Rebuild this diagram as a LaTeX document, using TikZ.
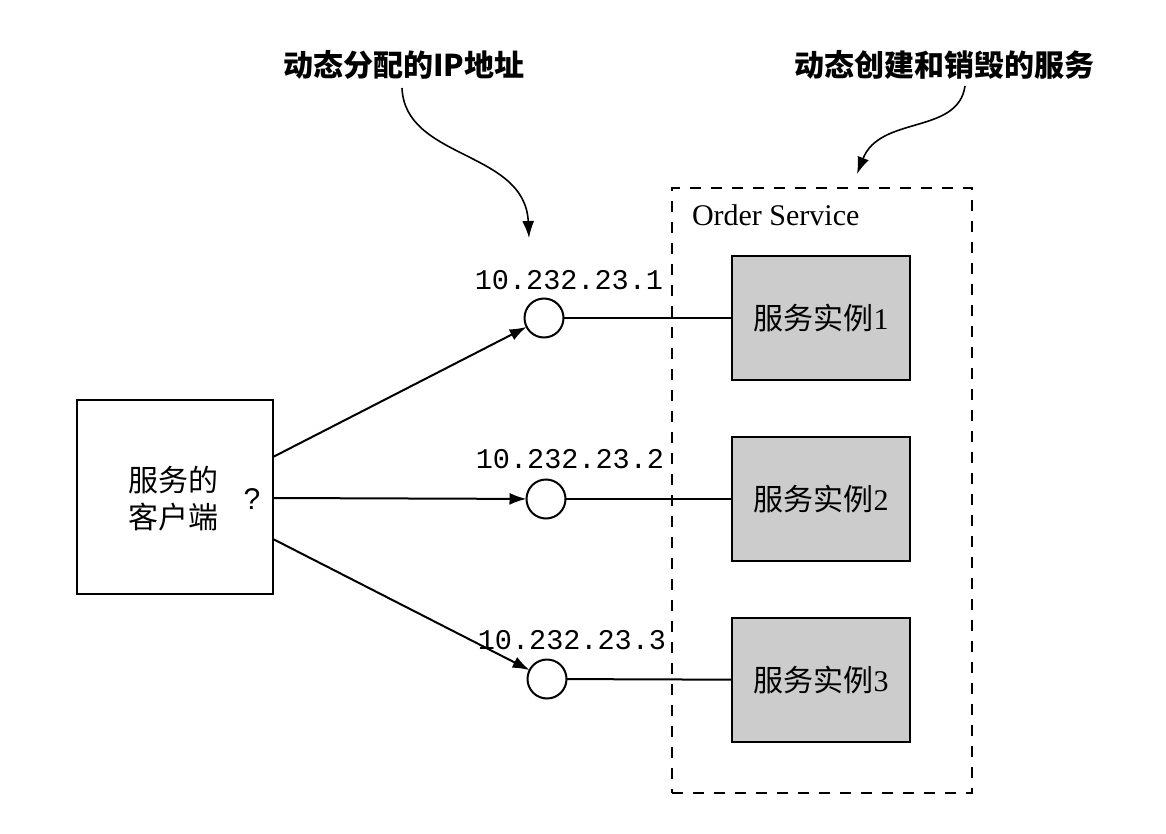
\documentclass[tikz,border=0pt]{standalone}
\usepackage{fontspec}
\setmainfont{Liberation Serif}
\newfontfamily\cjk{Noto Sans CJK SC}
\newfontfamily\monofam{Liberation Mono}
\newfontfamily\sansfam{Liberation Sans}
\usetikzlibrary{arrows.meta}
\begin{document}
\begin{tikzpicture}[x=1pt,y=-1pt,
  every node/.style={inner sep=0pt,outer sep=0pt},
  box/.style={draw,line width=2pt},
  inst/.style={box,fill=black!20,minimum width=178pt,minimum height=124pt,font=\cjk\fontsize{30}{36}\selectfont},
  ipc/.style={draw,line width=2pt,circle,minimum size=39pt,fill=white},
  iplabel/.style={font=\monofam\fontsize{28.5}{32}\selectfont,anchor=east},
  conn/.style={line width=2pt},
  arr/.style={conn,-{Latex[length=17pt,width=12pt]}},
  title/.style={font=\cjk\bfseries\fontsize{30}{36}\selectfont},
  dashbox/.style={draw,line width=2pt,dash pattern=on 11pt off 10pt}
]
\useasboundingbox (0,0) rectangle (1166,834);
% dashed service box
\node[dashbox,minimum width=300pt,minimum height=605pt,anchor=north west] (svc) at (672,188) {};
\node[anchor=west,font=\fontsize{30}{36}\selectfont] (svclabel) at (692,215) {Order Service};
% client
\node[box,minimum width=196pt,minimum height=194pt] (client) at (175,497) {};
\node[font=\cjk\fontsize{30}{37}\selectfont,align=center] (clienttext) at (173,499) {服务的\\客户端};
\node[font=\sansfam\fontsize{30}{36}\selectfont] (q) at (252,499) {?};
% instances
\node[inst] (i1) at (821,318) {服务实例{\rmfamily 1}};
\node[inst] (i2) at (821,499) {服务实例{\rmfamily 2}};
\node[inst] (i3) at (821,680) {服务实例{\rmfamily 3}};
% ip circles
\node[ipc] (p1) at (544,318) {};
\node[ipc] (p2) at (546,499) {};
\node[ipc] (p3) at (547,679) {};
\node[iplabel] (l1) at (663,280) {10.232.23.1};
\node[iplabel] (l2) at (664,459) {10.232.23.2};
\node[iplabel] (l3) at (666,640) {10.232.23.3};
% connectors
\coordinate (c1) at (273,457);
\coordinate (c2) at (273,498);
\coordinate (c3) at (273,539);
\draw[arr] (c1) -- (p1);
\draw[arr] (c2) -- (p2);
\draw[arr] (c3) -- (p3);
\draw[conn] (p1) -- (i1);
\draw[conn] (p2) -- (i2);
\draw[conn] (p3) -- (i3);
% titles
\node[title] (t1) at (404,65) {动态分配的IP地址};
\node[title] (t2) at (944,65) {动态创建和销毁的服务};
\coordinate (a1s) at (402,88);
\coordinate (a1e) at (529,238);
\coordinate (a2s) at (965,86);
\coordinate (a2e) at (857,174);
\draw[line width=1.6pt,-{Latex[length=17pt,width=12pt]}] (a1s) .. controls (405,160) and (525,150) .. (a1e);
\draw[line width=1.6pt,-{Latex[length=17pt,width=12pt]}] (a2s) .. controls (958,135) and (880,115) .. (a2e);
\end{tikzpicture}
\end{document}
